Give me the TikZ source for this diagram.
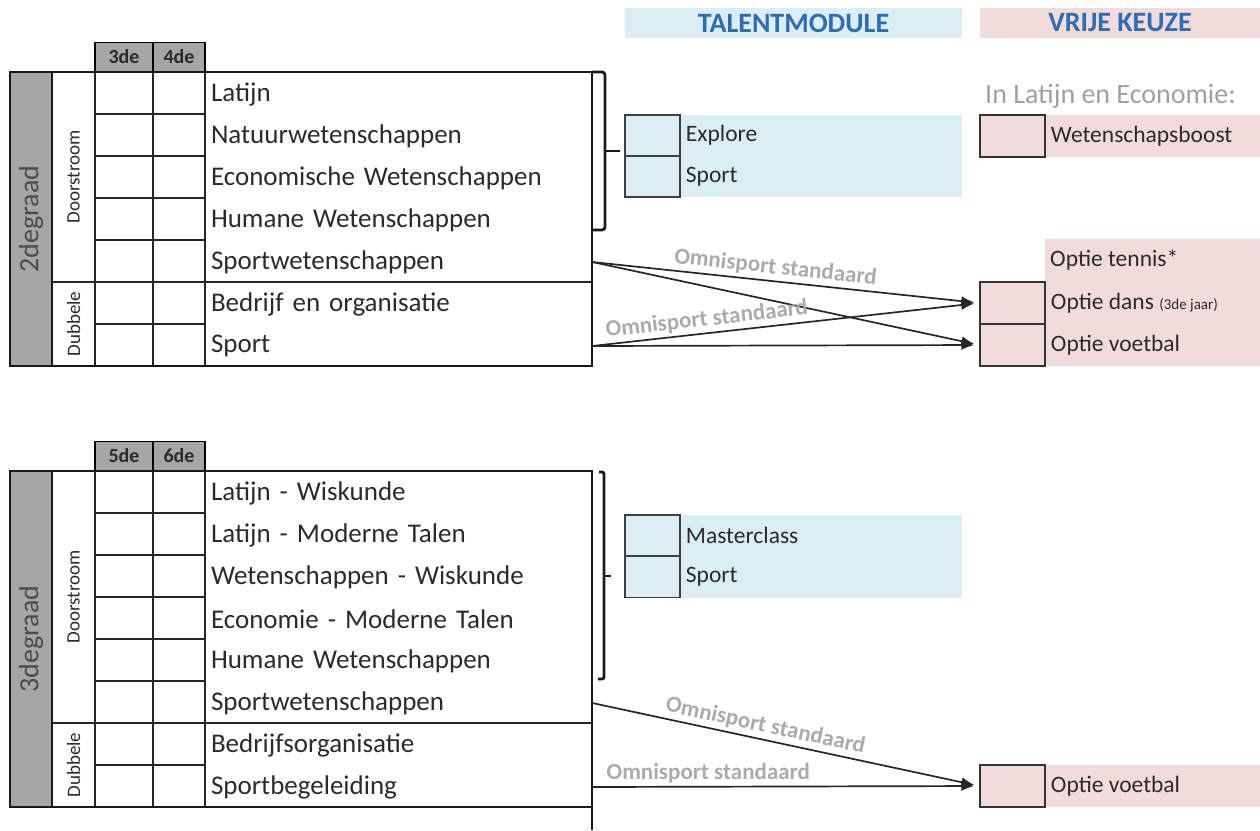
\documentclass[tikz,border=0pt]{standalone}
\usepackage{fontspec}
\setmainfont{Carlito}
\usetikzlibrary{arrows.meta}

\definecolor{tmblue}{HTML}{DAEEF3}
\definecolor{vkpink}{HTML}{F2DCDB}
\definecolor{headblue}{HTML}{2E6DB4}
\definecolor{colgray}{HTML}{A6A6A6}
\definecolor{omnigray}{HTML}{ABABAB}
\definecolor{notegray}{HTML}{A0A0A0}
\definecolor{txtdark}{HTML}{2B2B2B}

\newcommand{\fsz}[1]{\fontsize{#1}{#1}\selectfont}

\begin{document}
\begin{tikzpicture}[x=1pt, y=-1pt,
    rowbox/.style={inner xsep=6pt, inner ysep=0pt, text width=375pt, minimum height=42pt, align=left, font=\fsz{27}, text=txtdark},
    headcell/.style={draw, line width=1.6pt, fill=colgray, minimum height=29pt, inner sep=0pt, font=\fsz{20}\bfseries, text=txtdark},
    graycol/.style={fill=colgray, rotate=90, minimum width=#1, minimum height=42pt, inner sep=0pt, font=\fsz{28}, text=txtdark!85},
    sidelabel/.style={rotate=90, inner sep=0pt, font=\fsz{19}, text=txtdark},
    grid/.style={line width=1.6pt, black!85},
    frame/.style={line width=2.8pt, black!90},
    brk/.style={line width=2.8pt, black!90},
    tmbox/.style={draw, line width=1.5pt, black!75, fill=tmblue, minimum width=55pt, minimum height=41pt, inner sep=0pt},
    vkbox/.style={draw, line width=1.5pt, black!80, fill=vkpink, minimum width=65pt, minimum height=42pt, inner sep=0pt},
    optlabel/.style={anchor=west, inner xsep=5pt, font=\fsz{23.5}, text=txtdark},
    header/.style={minimum height=30pt, inner sep=0pt, font=\fsz{28}\bfseries, text=headblue},
    arrow/.style={-{Latex[length=13pt,width=10pt]}, line width=1.7pt, black!85, shorten >=5pt},
    omni/.style={font=\fsz{23}\bfseries, text=omnigray, sloped, above, inner sep=3pt}
]
\useasboundingbox (0,0) rectangle (1260,830);

% headers
\node[header, fill=tmblue, minimum width=337pt] (talent) at (793.5,23) {TALENTMODULE};
\node[header, fill=vkpink, minimum width=280pt] (vrij) at (1120,23) {VRIJE KEUZE};

% ---- 2de graad ----
\node[headcell, minimum width=58pt] (h3) at (124,57) {3de};
\node[headcell, minimum width=52pt] (h4) at (179,57) {4de};
\node[graycol=294pt] (g2) at (31,219) {2degraad};
\node[sidelabel] (ds2) at (73.5,177) {Doorstroom};
\node[sidelabel] (db2) at (73.5,324) {Dubbele};

\foreach \txt [count=\i] in {Latijn, Natuurwetenschappen, Economische Wetenschappen, Humane Wetenschappen, Sportwetenschappen, Bedrijf en organisatie, Sport}
  \node[rowbox] (t\i) at (398.5,52+42*\i) {\txt};

\foreach \i in {1,2,3,4,6}
  \draw[grid] (95,72+42*\i) -- (205,72+42*\i);
\draw[grid] (52,282) -- (592,282);
\foreach \x in {95,153,205}
  \draw[grid] (\x,72) -- (\x,366);
\draw[frame] (52,72) -- (52,366);
\draw[frame] (10,72) rectangle (592,366);
\draw[brk, rounded corners=3pt] (592,72) -- (605,72) -- (605,230) -- (592,230);
\draw[brk] (605,151) -- (620,151);

% talentmodule 2de graad
\fill[tmblue] (625,115) rectangle (962,197);
\node[tmbox] (tm1) at (652.5,135.5) {};
\node[tmbox] (tm2) at (652.5,176.5) {};
\node[optlabel] (tm1t) at (tm1.east) {Explore};
\node[optlabel] (tm2t) at (tm2.east) {Sport};

% vrije keuze 2de graad
\node[anchor=west, inner sep=0pt, font=\fsz{28}, text=notegray] (note) at (985,96) {In Latijn en Economie:};
\fill[vkpink] (1045,115) rectangle (1260,157);
\node[vkbox] (wb) at (1012.5,136) {};
\node[optlabel] (wbt) at (wb.east) {Wetenschapsboost};
\fill[vkpink] (1045,239) rectangle (1260,366);
\node[optlabel] (tennis) at (1045,260.5) {Optie tennis*};
\node[vkbox] (od) at (1012.5,303) {};
\node[vkbox] (ov) at (1012.5,345) {};
\node[optlabel] (odt) at (od.east) {Optie dans {\fsz{15}(3de jaar)}};
\node[optlabel] (ovt) at (ov.east) {Optie voetbal};

\draw[arrow] (t5.east) -- node[omni, pos=0.47] {Omnisport standaard} (od.west);
\draw[arrow] (t5.east) -- (ov.west);
\draw[arrow] (t7.east) -- node[omni, pos=0.3] {Omnisport standaard} (od.west);
\draw[arrow] (t7.east) -- (ov.west);

% ---- 3de graad ----
\node[headcell, minimum width=58pt] (h5) at (124,456) {5de};
\node[headcell, minimum width=52pt] (h6) at (179,456) {6de};
\node[graycol=336pt] (g3) at (31,639) {3degraad};
\node[sidelabel] (ds3) at (73.5,597) {Doorstroom};
\node[sidelabel] (db3) at (73.5,765) {Dubbele};

\foreach \txt [count=\i] in {Latijn - Wiskunde, Latijn - Moderne Talen, Wetenschappen - Wiskunde, Economie - Moderne Talen, Humane Wetenschappen, Sportwetenschappen, Bedrijfsorganisatie, Sportbegeleiding}
  \node[rowbox] (b\i) at (398.5,451+42*\i) {\txt};

\foreach \i in {1,2,3,4,5,7}
  \draw[grid] (95,471+42*\i) -- (205,471+42*\i);
\draw[grid] (52,723) -- (592,723);
\foreach \x in {95,153,205}
  \draw[grid] (\x,471) -- (\x,807);
\draw[frame] (52,471) -- (52,807);
\draw[frame] (10,471) rectangle (592,807);
\draw[frame] (592,807) -- (592,830);
\draw[brk, rounded corners=2pt] (599,472) -- (604,472) -- (604,679) -- (598,679);
\draw[brk] (604,576) -- (611,576);

% talentmodule 3de graad
\fill[tmblue] (625,515) rectangle (962,598);
\node[tmbox] (tm3) at (652.5,535.5) {};
\node[tmbox] (tm4) at (652.5,577) {};
\node[optlabel] (tm3t) at (tm3.east) {Masterclass};
\node[optlabel] (tm4t) at (tm4.east) {Sport};

% vrije keuze 3de graad
\fill[vkpink] (1045,765) rectangle (1260,807);
\node[vkbox] (ov2) at (1012.5,786) {};
\node[optlabel] (ov2t) at (ov2.east) {Optie voetbal};

\draw[arrow] (b6.east) -- node[omni, pos=0.44] {Omnisport standaard} (ov2.west);
\draw[arrow] (b8.east) -- node[omni, pos=0.3] {Omnisport standaard} (ov2.west);

\end{tikzpicture}
\end{document}
